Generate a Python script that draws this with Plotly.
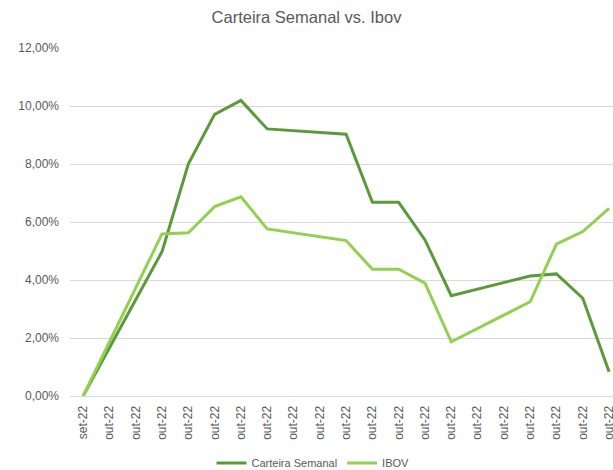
import plotly.graph_objects as go

categories = ["set-22"] + ["out-22"] * 20
carteira = [0.0, None, None, 4.98, 8.00, 9.71, 10.19, 9.21, None, None, 9.03,
            6.68, 6.68, 5.38, 3.46, None, None, 4.14, 4.21, 3.37, 0.84]
ibov = [0.0, None, None, 5.59, 5.63, 6.53, 6.87, 5.76, None, None, 5.36,
        4.37, 4.37, 3.89, 1.87, None, None, 3.25, 5.24, 5.67, 6.47]

xs = list(range(len(categories)))
to_frac = lambda arr: [None if v is None else v / 100 for v in arr]

fig = go.Figure()
fig.add_trace(go.Scatter(x=xs, y=to_frac(carteira), name="Carteira Semanal", mode="lines",
                         connectgaps=True, line=dict(color="#5B9A3B", width=3)))
fig.add_trace(go.Scatter(x=xs, y=to_frac(ibov), name="IBOV", mode="lines",
                         connectgaps=True, line=dict(color="#92D050", width=3)))

fig.update_layout(
    width=613, height=470,
    margin=dict(l=70, r=0, t=48, b=74, autoexpand=False),
    paper_bgcolor="white", plot_bgcolor="white",
    separators=",.",
    font=dict(family="Liberation Sans", color="#595959", size=12),
    title=dict(text="Carteira Semanal vs. Ibov", x=0.5, xref="container", xanchor="center",
               yref="container", y=1 - 17 / 470, yanchor="middle",
               font=dict(size=16.5, color="#595959")),
    showlegend=True,
    legend=dict(orientation="h", xref="container", x=313 / 613, xanchor="center",
                yref="container", y=1 - 463 / 470, yanchor="middle",
                font=dict(size=11, color="#595959"), bgcolor="rgba(0,0,0,0)",
                itemwidth=30, tracegroupgap=0),
)
fig.update_xaxes(range=[-0.5, 20.15], tickmode="array", tickvals=xs, ticktext=categories,
                 tickangle=-90, showgrid=False, zeroline=False, showline=True,
                 linecolor="#d9d9d9", linewidth=1, ticks="", automargin=False,
                 ticklabelstandoff=4, ticklabeloverflow="allow",
                 tickfont=dict(size=12, color="#595959"))
fig.update_yaxes(range=[0, 0.12], dtick=0.02, tickformat=".2%", showgrid=True,
                 gridcolor="#d9d9d9", gridwidth=1, zeroline=False, showline=False,
                 ticks="", ticklen=0, automargin=False, ticklabelstandoff=10,
                 tickfont=dict(size=12, color="#595959"))

fig.write_html("out.html", config={"displayModeBar": False},
               post_script="document.body.style.margin='0px';document.body.style.overflow='hidden';")
